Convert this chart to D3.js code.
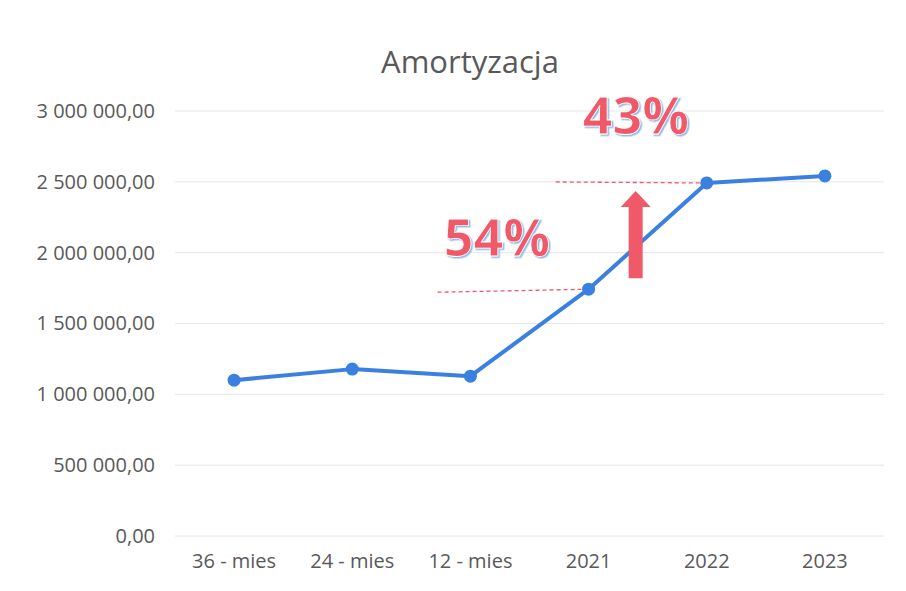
<!DOCTYPE html>
<html>
<head>
<meta charset="utf-8">
<script src="https://cdn.jsdelivr.net/npm/d3@7"></script>
<style>
  body { margin: 0; background: #fff; }
  svg { display: block; }
</style>
</head>
<body>
<main></main>
<script>
const categories = ['36 - mies', '24 - mies', '12 - mies', '2021', '2022', '2023'];
const values = [1100000, 1178000, 1128000, 1742000, 2492000, 2542000];
const yTicks = [0, 500000, 1000000, 1500000, 2000000, 2500000, 3000000];
// growth annotations: from-category, to-category, label
const growth = [
  { from: '12 - mies', to: '2021', label: '54%' },
  { from: '2021', to: '2022', label: '43%' }
];

const width = 906;
const height = 591;
const margin = { top: 111, right: 22, bottom: 55, left: 175 };
const font = "'Open Sans', sans-serif";
const red = '#f05a68';

const svg = d3.select('main')
  .append('svg')
  .attr('width', width)
  .attr('height', height);

const defs = svg.append('defs');
const shadow = defs.append('filter')
  .attr('id', 'glow')
  .attr('x', '-20%').attr('y', '-20%')
  .attr('width', '140%').attr('height', '140%');
shadow.append('feDropShadow')
  .attr('dx', 1.5).attr('dy', 1.5)
  .attr('stdDeviation', 0.6)
  .attr('flood-color', '#8fbde8');

const x = d3.scaleBand()
  .domain(categories)
  .range([margin.left, width - margin.right]);

const y = d3.scaleLinear()
  .domain([0, 3000000])
  .range([height - margin.bottom, margin.top]);

const fmt = v => d3.format(',.2f')(v).replace(/,/g, ' ').replace('.', ',');

// Title
svg.append('text')
  .attr('x', 470)
  .attr('y', 73)
  .attr('text-anchor', 'middle')
  .style('font-family', font)
  .style('font-size', '31px')
  .style('fill', '#595959')
  .text('Amortyzacja');

// Grid
svg.append('g')
  .selectAll('line')
  .data(yTicks)
  .enter()
  .append('line')
  .attr('x1', margin.left)
  .attr('x2', width - margin.right)
  .attr('y1', d => y(d))
  .attr('y2', d => y(d))
  .style('stroke', '#e6e6e6')
  .style('stroke-width', 1);

// Y axis
const yAxis = d3.axisLeft(y)
  .tickValues(yTicks)
  .tickSize(0)
  .tickPadding(20)
  .tickFormat(fmt);

svg.append('g')
  .attr('transform', `translate(${margin.left}, 0)`)
  .call(yAxis)
  .call(g => g.select('.domain').remove())
  .selectAll('text')
  .style('font-family', font)
  .style('font-size', '20px')
  .style('fill', '#595959');

// X axis
const xAxis = d3.axisBottom(x)
  .tickSize(0)
  .tickPadding(18);

svg.append('g')
  .attr('transform', `translate(0, ${height - margin.bottom})`)
  .call(xAxis)
  .call(g => g.select('.domain').remove())
  .selectAll('text')
  .style('font-family', font)
  .style('font-size', '20px')
  .style('fill', '#595959');

const cx = d => x(d) + x.bandwidth() / 2;
const points = categories.map((c, i) => ({ c, v: values[i] }));
const valueOf = c => values[categories.indexOf(c)];

// Dashed reference lines at the level of each "to" point
growth.forEach(g => {
  const yy = y(valueOf(g.to));
  svg.append('line')
    .attr('x1', cx(g.to) - 151)
    .attr('x2', cx(g.to))
    .attr('y1', g.label === '54%' ? yy + 3 : yy - 1)
    .attr('y2', yy)
    .style('stroke', red)
    .style('stroke-width', 1.3)
    .style('stroke-dasharray', '4 3');
});

// Line
const line = d3.line()
  .x(d => cx(d.c))
  .y(d => y(d.v));

svg.append('path')
  .datum(points)
  .attr('d', line)
  .style('fill', 'none')
  .style('stroke', '#3a80e0')
  .style('stroke-width', 4)
  .style('stroke-linejoin', 'round');

svg.append('g')
  .selectAll('circle')
  .data(points)
  .enter()
  .append('circle')
  .attr('cx', d => cx(d.c))
  .attr('cy', d => y(d.v))
  .attr('r', 6.5)
  .style('fill', '#3a80e0');

// Arrow between 2021 and 2022
const ax = (cx('2021') + cx('2022')) / 2 - 12;
const aTop = y(valueOf('2022')) + 8;
const aBottom = y(valueOf('2021')) - 11;
svg.append('path')
  .attr('d', `M${ax - 7},${aBottom} L${ax - 7},${aTop + 16} L${ax - 15},${aTop + 16} L${ax},${aTop} L${ax + 15},${aTop + 16} L${ax + 7},${aTop + 16} L${ax + 7},${aBottom} Z`)
  .style('fill', red);

// Percentage labels
const labelPos = { '54%': [497, 256], '43%': [636, 134] };
growth.forEach(g => {
  const [lx, ly] = labelPos[g.label];
  svg.append('text')
    .attr('x', lx)
    .attr('y', ly)
    .attr('text-anchor', 'middle')
    .attr('filter', 'url(#glow)')
    .style('font-family', font)
    .style('font-weight', 700)
    .style('font-size', '52px')
    .style('fill', red)
    .style('stroke', '#ffffff')
    .style('stroke-width', 0.8)
    .text(g.label);
});
</script>
</body>
</html>
